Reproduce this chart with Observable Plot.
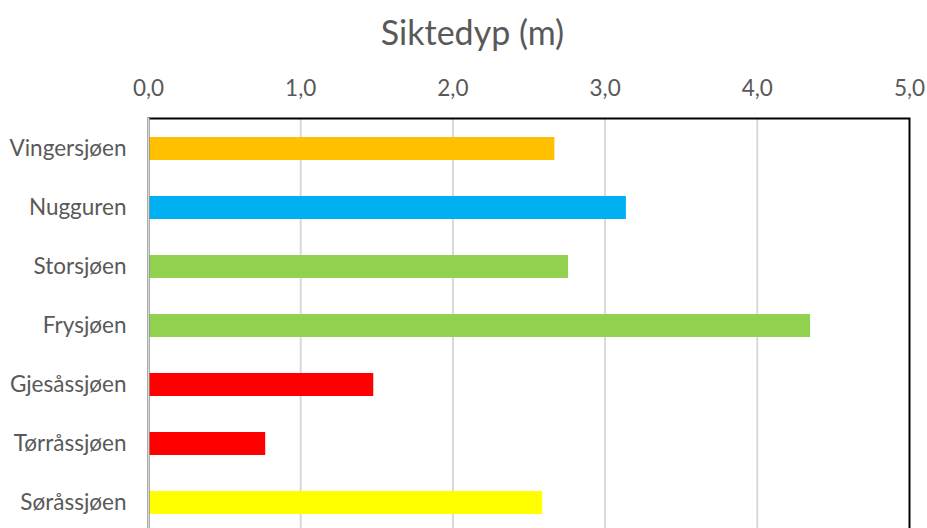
<!DOCTYPE html>
<html>
<head>
<meta charset="utf-8">
<script src="https://cdn.jsdelivr.net/npm/d3@7"></script>
<script src="https://cdn.jsdelivr.net/npm/@observablehq/plot@0.6"></script>
<style>
  html, body { margin: 0; padding: 0; background: #fff; overflow: hidden; }
  #title { height: 70px; line-height: 64px; text-align: center; font-family: Lato, sans-serif; font-size: 34px; color: #595959; padding-left: 18px; box-sizing: border-box; width: 927px; }
</style>
</head>
<body>
<div id="title">Siktedyp (m)</div>
<div id="chart"></div>
<script>
const lakes = ["Vingersjøen", "Nugguren", "Storsjøen", "Frysjøen", "Gjesåssjøen", "Tørråssjøen", "Søråssjøen"];
const depths = [2.67, 3.14, 2.76, 4.35, 1.48, 0.77, 2.59];
const barColors = ["#FFC000", "#00B0F0", "#92D050", "#92D050", "#FF0000", "#FF0000", "#FFFF00"];
const xTicks = [0, 1, 2, 3, 4, 5];

const data = lakes.map((name, i) => ({name, value: depths[i], color: barColors[i]}));

const chart = Plot.plot({
  width: 927,
  height: 473,
  marginTop: 48,
  marginLeft: 148,
  marginRight: 18,
  marginBottom: 10,
  style: {fontFamily: "Lato, sans-serif", fontSize: "22.5px", color: "#595959", background: "#fff"},
  x: {domain: [0, 5], axis: "top", ticks: xTicks, tickFormat: d => d.toFixed(1).replace(".", ","), tickSize: 0, tickPadding: 23, label: null},
  y: {domain: lakes, axis: "left", tickSize: 0, tickPadding: 22, label: null, paddingInner: 0.61, paddingOuter: 0.305},
  marks: [
    Plot.ruleX(xTicks.slice(1, 5), {stroke: "#d9d9d9", strokeWidth: 2}),
    Plot.barX(data, {x: "value", y: "name", fill: "color"}),
    Plot.frame({stroke: "#000", strokeWidth: 2}),
    Plot.ruleX([0], {stroke: "#d9d9d9", strokeWidth: 2})
  ]
});
document.getElementById("chart").appendChild(chart);
</script>
</body>
</html>
